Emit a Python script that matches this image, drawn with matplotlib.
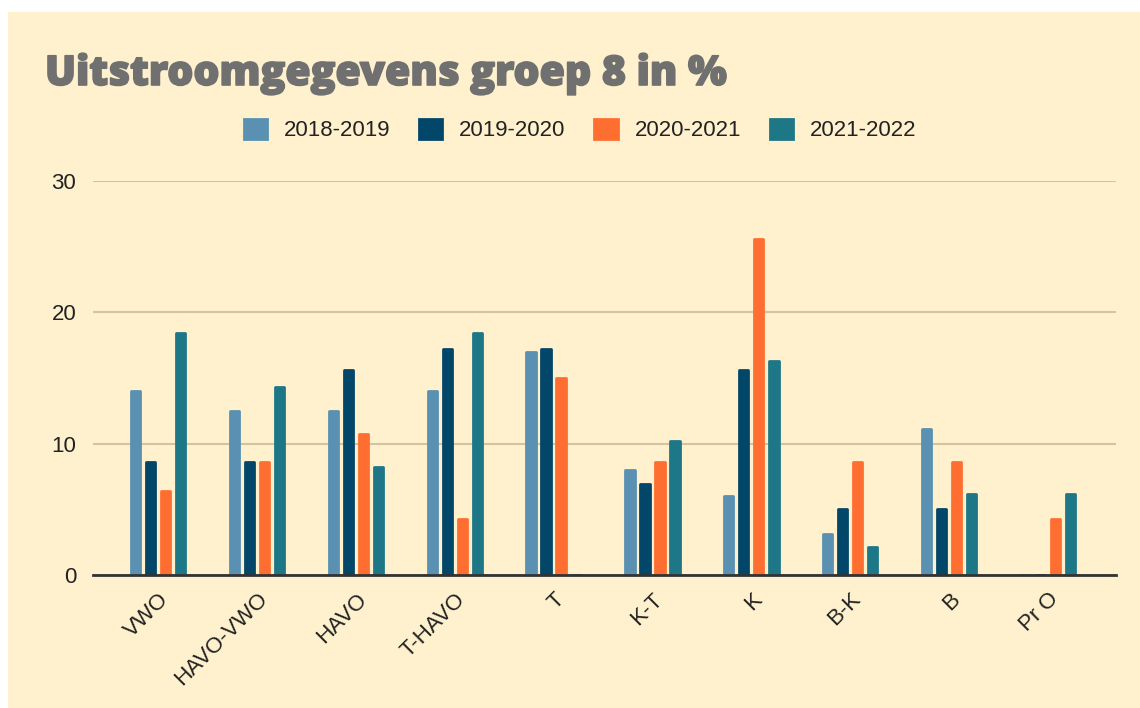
import matplotlib.pyplot as plt
from matplotlib.patches import Rectangle
import matplotlib.patheffects as pe
import numpy as np

plt.rcParams['font.family'] = ['Liberation Sans', 'DejaVu Sans']

# data
categories = ['VWO', 'HAVO-VWO', 'HAVO', 'T-HAVO', 'T', 'K-T', 'K', 'B-K', 'B', 'Pr O']
years = ['2018-2019', '2019-2020', '2020-2021', '2021-2022']
v2018 = [14.0, 12.5, 12.5, 14.0, 17.0, 8.0, 6.0, 3.1, 11.1, 0]
v2019 = [8.6, 8.6, 15.6, 17.2, 17.2, 6.9, 15.6, 5.0, 5.0, 0]
v2020 = [6.4, 8.6, 10.7, 4.3, 15.0, 8.6, 25.6, 8.6, 8.6, 4.3]
v2021 = [18.4, 14.3, 8.2, 18.4, 0, 10.2, 16.3, 2.1, 6.2, 6.2]
yticks = [0, 10, 20, 30]

colors = ['#5A90B2', '#02476A', '#FF6E31', '#1D7787']
bg = '#FFF1CE'

fig = plt.figure(figsize=(11.4, 7.08), dpi=100)
fig.patches.append(Rectangle((8 / 1140, 0), 1 - 8 / 1140, 1 - 12 / 708,
                             transform=fig.transFigure, facecolor=bg,
                             edgecolor='none', zorder=-10))

ax = fig.add_axes([93 / 1140, 1 - 575 / 708, (1116 - 93) / 1140, (575 - 181) / 708])
ax.set_facecolor('none')

x = np.arange(len(categories))
w = 0.095
step = 0.152
series = [v2018, v2019, v2020, v2021]
for i, vals in enumerate(series):
    ax.bar(x + (i - 1.5) * step, vals, width=w, color=colors[i], edgecolor=colors[i],
           linewidth=2, joinstyle='round', label=years[i], zorder=3)

ax.set_ylim(0, 30)
ax.set_xlim(-0.66, 9.69)
ax.set_yticks(yticks)
ax.set_yticklabels([str(t) for t in yticks], fontsize=16, color='#222222')
ax.yaxis.grid(True, color='#D3C39F', linewidth=1.5, zorder=0)
ax.tick_params(axis='both', length=0)
ax.tick_params(axis='y', pad=12)
ax.set_xticks(x)
ax.set_xticklabels(categories, rotation=45, ha='right', rotation_mode='anchor',
                   fontsize=16, color='#222222')
ax.tick_params(axis='x', pad=10)
for s in ['top', 'right', 'left']:
    ax.spines[s].set_visible(False)
ax.spines['bottom'].set_color('#333333')
ax.spines['bottom'].set_linewidth(2)
ax.spines['bottom'].set_zorder(4)

fig.text(45 / 1140, 1 - 85 / 708, 'Uitstroomgegevens groep 8 in %', fontsize=29.5,
         fontweight='heavy', family=['Open Sans', 'Liberation Sans'], color='#707070',
         ha='left', va='baseline',
         path_effects=[pe.withStroke(linewidth=1.2, foreground='#707070')])

fig.legend(loc='center', bbox_to_anchor=(580 / 1140, 1 - 130 / 708), ncol=4,
           frameon=False, fontsize=16, handlelength=1.05, handleheight=1.05,
           handletextpad=0.75, columnspacing=1.3, labelcolor='#222222')

fig.savefig('out.png', dpi=100, facecolor='white')
